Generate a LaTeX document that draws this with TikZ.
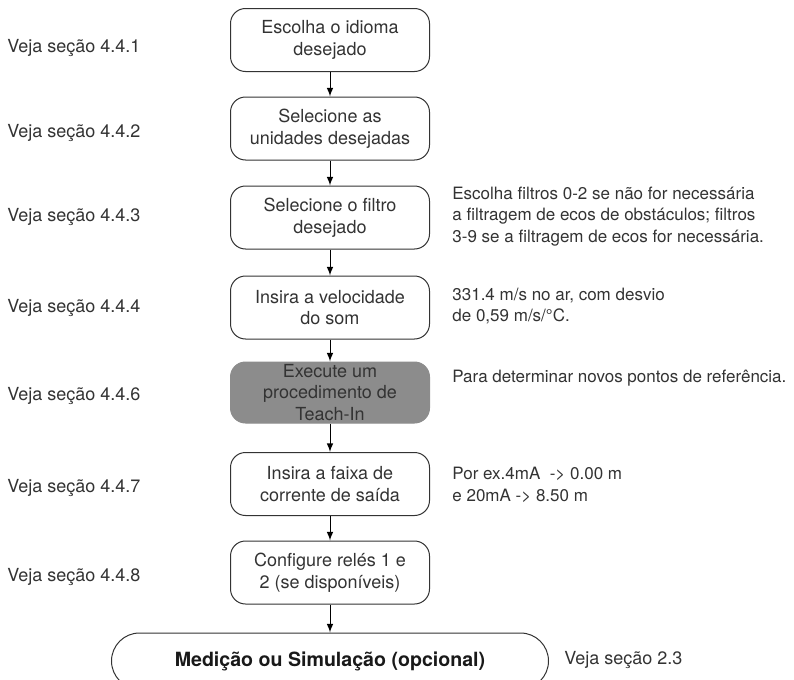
\documentclass[tikz,border=0pt]{standalone}
\usepackage{fontspec}
\setmainfont{TeX Gyre Heros}
\usepackage{tikz}
\usetikzlibrary{arrows}
\usetikzlibrary{shapes,positioning,calc}
\definecolor{inkgray}{HTML}{333333}
\definecolor{teachgray}{HTML}{8C8C8C}

\tikzset{
  stepbox/.style={draw=inkgray, line width=0.5pt, rounded corners=7.5pt,
    minimum width=99.5pt, minimum height=31.5pt, inner ysep=0pt,
    align=center, text=inkgray, font=\fontsize{9}{10.75}\selectfont},
  teachbox/.style={stepbox, draw=teachgray, fill=teachgray, minimum height=30.5pt},
  endbox/.style={draw=inkgray, line width=0.5pt, rounded corners=14pt,
    minimum width=218.5pt, minimum height=28pt, text=black!90,
    font=\fontsize{9.8}{11}\selectfont\bfseries},
  seelabel/.style={anchor=west, inner sep=0pt, text=inkgray,
    font=\fontsize{9}{10.75}\selectfont},
  notelabel/.style={seelabel, align=left, font=\fontsize{8.5}{10.75}\selectfont}
}

\begin{document}
\begin{tikzpicture}[>=latex, x=0.5pt, y=-0.5pt]
			\useasboundingbox (0,0) rectangle (794,680);
			% flow
			\node[stepbox] (lang) at (330,40) {Escolha o idioma\\desejado};
			\node[stepbox] (units) at (330,128.5) {Selecione as\\unidades desejadas};
			\node[stepbox] (filter) at (330,217.5) {Selecione o filtro\\desejado};
			\node[stepbox] (sound) at (330,307.5) {Insira a velocidade\\do som};
			\node[teachbox] (teach) at (330,392.5) {Execute um\\procedimento de\\Teach-In};
			\node[stepbox] (current) at (330,484) {Insira a faixa de\\corrente de saída};
			\node[stepbox] (relays) at (330,572.5) {Configure relés 1 e\\2 (se disponíveis)};
			\node[endbox] (measure) at (330,661) {Medição ou Simulação (opcional)};
			\draw[line width=0.5pt, ->] (lang) -- (units);
			\draw[line width=0.5pt, ->] (units) -- (filter);
			\draw[line width=0.5pt, ->] (filter) -- (sound);
			\draw[line width=0.5pt, ->] (sound) -- (teach);
			\draw[line width=0.5pt, ->] (teach) -- (current);
			\draw[line width=0.5pt, ->] (current) -- (relays);
			\draw[line width=0.5pt, ->] (relays) -- (measure);
			% left side
			\node[seelabel] (see441) at (7,48) {Veja seção 4.4.1};
			\node[seelabel] (see442) at (7,133) {Veja seção 4.4.2};
			\node[seelabel] (see443) at (7,217) {Veja seção 4.4.3};
			\node[seelabel] (see444) at (7,308) {Veja seção 4.4.4};
			\node[seelabel] (see446) at (7,396) {Veja seção 4.4.6};
			\node[seelabel] (see447) at (7,488) {Veja seção 4.4.7};
			\node[seelabel] (see448) at (7,577) {Veja seção 4.4.8};
			% right side
			\node[notelabel] (filternote) at (452,216.5) {Escolha filtros 0-2 se não for necessária\\a filtragem de ecos de obstáculos; filtros\\3-9 se a filtragem de ecos for necessária.};
			\node[notelabel] (soundnote) at (452,306) {331.4 m/s no ar, com desvio\\de 0,59 m/s/°C.};
			\node[notelabel] (teachnote) at (452,378) {Para determinar novos pontos de referência.};
			\node[notelabel] (currentnote) at (452,485) {Por ex.4mA\ \ -> 0.00 m\\e 20mA -> 8.50 m};
			\node[seelabel] (see23) at (564,660) {Veja seção 2.3};
			\end{tikzpicture}
\end{document}
